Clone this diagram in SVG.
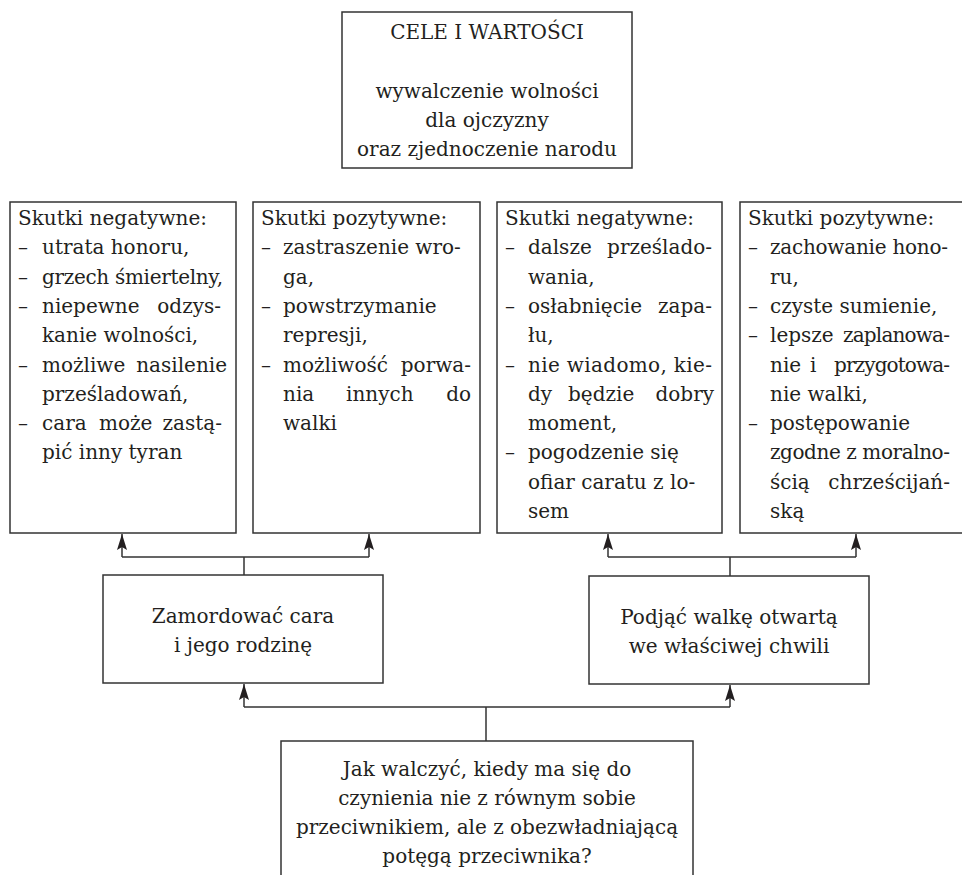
<svg xmlns="http://www.w3.org/2000/svg" width="962" height="875" viewBox="0 0 962 875">
<style>
.box{fill:#fff;stroke:#333;stroke-width:1.5}
text{font-family:"DejaVu Serif","Liberation Serif",serif;font-size:20px;fill:#231f20}
.c{text-anchor:middle}
.e{text-anchor:end}
.ln{fill:none;stroke:#333;stroke-width:1.5}
</style>
<defs>
<marker id="arr" viewBox="0 0 16 10" refX="16" refY="5" markerWidth="16" markerHeight="10" markerUnits="userSpaceOnUse" orient="auto">
<path d="M0,0 L16,5 L0,10 L3,5 z" fill="#231f20"/>
</marker>
</defs>

<g id="connectors">
<path class="ln" d="M244,575 V557 M122,557 H369"/>
<path class="ln" d="M122,557 V534" marker-end="url(#arr)"/>
<path class="ln" d="M369,557 V534" marker-end="url(#arr)"/>
<path class="ln" d="M730,576 V557 M608,557 H856"/>
<path class="ln" d="M608,557 V534" marker-end="url(#arr)"/>
<path class="ln" d="M856,557 V534" marker-end="url(#arr)"/>
<path class="ln" d="M486,741 V707 M244,707 H730"/>
<path class="ln" d="M244,707 V684" marker-end="url(#arr)"/>
<path class="ln" d="M730,707 V685" marker-end="url(#arr)"/>
</g>

<g id="cele">
<rect class="box" x="342" y="12" width="290" height="156"/>
<text class="c" x="487" y="39">CELE I WARTOŚCI</text>
<text class="c" x="487" y="98">wywalczenie wolności</text>
<text class="c" x="487" y="127">dla ojczyzny</text>
<text class="c" x="487" y="156">oraz zjednoczenie narodu</text>
</g>

<g id="neg1">
<rect class="box" x="10" y="202" width="226" height="331"/>
<text x="18" y="225">Skutki negatywne:</text>
<text x="18" y="254.3">–</text><text x="42" y="254.3">utrata honoru,</text>
<text x="18" y="283.6">–</text><text x="42" y="283.6" textLength="181">grzech śmiertelny,</text>
<text x="18" y="312.9">–</text><text x="42" y="312.9">niepewne</text><text class="e" x="221" y="312.9">odzys-</text>
<text x="42" y="342.2">kanie wolności,</text>
<text x="18" y="371.5">–</text><text x="42" y="371.5">możliwe</text><text class="e" x="227" y="371.5">nasilenie</text>
<text x="42" y="400.8">prześladowań,</text>
<text x="18" y="430.1">–</text><text x="42" y="430.1">cara</text><text x="99" y="430.1">może</text><text class="e" x="222" y="430.1">zastą-</text>
<text x="42" y="459.4">pić inny tyran</text>
</g>

<g id="poz1">
<rect class="box" x="253" y="202" width="227" height="331"/>
<text x="261" y="225">Skutki pozytywne:</text>
<text x="261" y="254.3">–</text><text x="283" y="254.3">zastraszenie wro-</text>
<text x="283" y="283.6">ga,</text>
<text x="261" y="312.9">–</text><text x="283" y="312.9">powstrzymanie</text>
<text x="283" y="342.2">represji,</text>
<text x="261" y="371.5">–</text><text x="283" y="371.5">możliwość</text><text class="e" x="471" y="371.5">porwa-</text>
<text x="283" y="400.8">nia</text><text x="346" y="400.8">innych</text><text class="e" x="471" y="400.8">do</text>
<text x="283" y="430.1">walki</text>
</g>

<g id="neg2">
<rect class="box" x="497" y="202" width="225" height="331"/>
<text x="505" y="225">Skutki negatywne:</text>
<text x="505" y="254.3">–</text><text x="528" y="254.3">dalsze</text><text class="e" x="712" y="254.3">prześlado-</text>
<text x="528" y="283.6">wania,</text>
<text x="505" y="312.9">–</text><text x="528" y="312.9">osłabnięcie</text><text class="e" x="712" y="312.9">zapa-</text>
<text x="528" y="342.2">łu,</text>
<text x="505" y="371.5">–</text><text x="528" y="371.5" textLength="184">nie wiadomo, kie-</text>
<text x="528" y="400.8">dy</text><text x="568" y="400.8">będzie</text><text class="e" x="714" y="400.8">dobry</text>
<text x="528" y="430.1">moment,</text>
<text x="505" y="459.4">–</text><text x="528" y="459.4">pogodzenie się</text>
<text x="528" y="488.7">ofiar caratu z lo-</text>
<text x="528" y="518">sem</text>
</g>

<g id="poz2">
<rect class="box" x="740" y="202" width="230" height="331"/>
<text x="748" y="225">Skutki pozytywne:</text>
<text x="748" y="254.3">–</text><text x="770" y="254.3" textLength="178">zachowanie hono-</text>
<text x="770" y="283.6">ru,</text>
<text x="748" y="312.9">–</text><text x="770" y="312.9">czyste sumienie,</text>
<text x="748" y="342.2">–</text><text x="770" y="342.2">lepsze</text><text x="843" y="342.2" textLength="107">zaplanowa-</text>
<text x="770" y="371.5">nie</text><text x="810" y="371.5">i</text><text x="834" y="371.5" textLength="116">przygotowa-</text>
<text x="770" y="400.8">nie walki,</text>
<text x="748" y="430.1">–</text><text x="770" y="430.1">postępowanie</text>
<text x="770" y="459.4" textLength="180">zgodne z moralno-</text>
<text x="770" y="488.7">ścią</text><text class="e" x="950" y="488.7">chrześcijań-</text>
<text x="770" y="518">ską</text>
</g>

<g id="zamordowac">
<rect class="box" x="103" y="575" width="280" height="108"/>
<text class="c" x="243" y="623">Zamordować cara</text>
<text class="c" x="243" y="652">i jego rodzinę</text>
</g>

<g id="podjac">
<rect class="box" x="589" y="576" width="280" height="108"/>
<text class="c" x="729" y="624">Podjąć walkę otwartą</text>
<text class="c" x="729" y="653">we właściwej chwili</text>
</g>

<g id="pytanie">
<rect class="box" x="281" y="741" width="412" height="145"/>
<text class="c" x="487" y="776">Jak walczyć, kiedy ma się do</text>
<text class="c" x="487" y="805">czynienia nie z równym sobie</text>
<text class="c" x="487" y="834">przeciwnikiem, ale z obezwładniającą</text>
<text class="c" x="487" y="863">potęgą przeciwnika?</text>
</g>
</svg>
